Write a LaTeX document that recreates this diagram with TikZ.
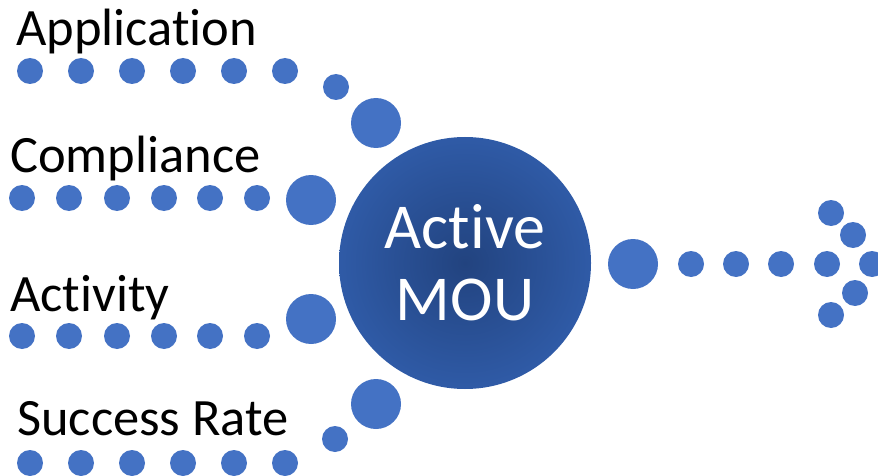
\documentclass[tikz,border=0pt]{standalone}
\usepackage{fontspec}
\setmainfont{Carlito}[Ligatures={NoCommon,NoContextual},RawFeature={-liga;-clig;-calt;-dlig}]
\definecolor{dotblue}{HTML}{4472C4}
\definecolor{hubin}{HTML}{22437F}
\definecolor{hubout}{HTML}{3565B8}
\pgfdeclareradialshading{hubshade}{\pgfpointorigin}{color(0bp)=(hubin); color(36bp)=(hubout); color(50bp)=(hubout)}
\begin{document}
\begin{tikzpicture}[x=1pt,y=-1pt,
  smalldot/.style={circle,fill=dotblue,inner sep=0,minimum size=26pt},
  bigdot/.style={circle,fill=dotblue,inner sep=0,minimum size=50pt},
  lbl/.style={anchor=base west,inner sep=0,font=\fontsize{52.5}{52.5}\selectfont,text=black},
  hub/.style={circle,inner sep=0,minimum size=252pt,shading=hubshade,text=white,
    font=\fontsize{64}{72}\selectfont,align=center}]
\useasboundingbox (0,0) rectangle (878,476);
% labels
\node[lbl] (tA) at (16,46) {Application};
\node[lbl] (tC) at (10,172) {Compliance};
\node[lbl] (tV) at (10,311) {Activity};
\node[lbl] (tS) at (17,435) {Success Rate};
% row 1
\foreach \x [count=\i] in {30,81,132,183,234,285} \node[smalldot] (a\i) at (\x,71) {};
\node[smalldot] (a7) at (336,87) {};
\node[bigdot] (a8) at (376,123) {};
% row 2
\foreach \x [count=\i] in {22,69,117,164,210,257} \node[smalldot] (c\i) at (\x,198) {};
\node[bigdot] (c7) at (311,200) {};
% row 3
\foreach \x [count=\i] in {22,69,117,164,210,257} \node[smalldot] (v\i) at (\x,336) {};
\node[bigdot] (v7) at (311,319) {};
% row 4
\foreach \x [count=\i] in {30,81,132,183,234,285} \node[smalldot] (s\i) at (\x,463) {};
\node[smalldot] (s7) at (335,439) {};
\node[bigdot] (s8) at (376,404) {};
% hub
\node[hub] (hub) at (465,263) {Active\\MOU};
% output arrow
\node[bigdot] (o0) at (633,264) {};
\foreach \x [count=\i] in {691,736,781,827,872} \node[smalldot] (o\i) at (\x,264) {};
\node[smalldot] (h1) at (831,213) {};
\node[smalldot] (h2) at (853,235) {};
\node[smalldot] (h3) at (855,293) {};
\node[smalldot] (h4) at (831,315) {};
\end{tikzpicture}
\end{document}
